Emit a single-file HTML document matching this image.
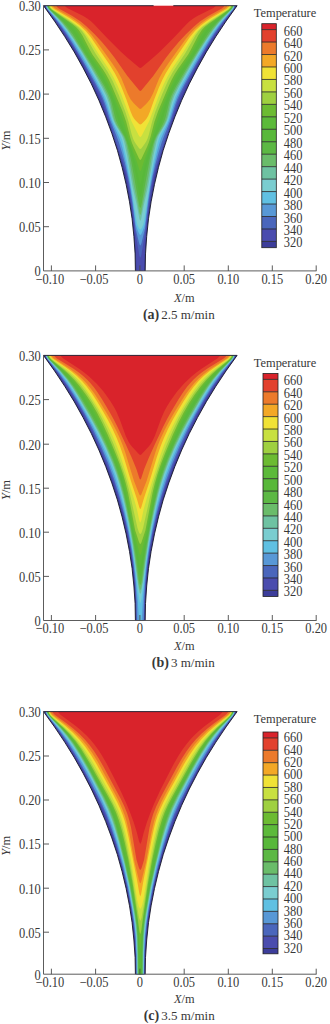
<!DOCTYPE html>
<html><head><meta charset="utf-8"><style>
html,body{margin:0;padding:0;background:#fff;}
body{width:330px;height:1024px;overflow:hidden;}
svg{display:block;}
.t{font-family:"Liberation Serif",serif;font-size:13px;fill:#383838;}
.bd{font-weight:bold;font-size:14px;}
.n{font-family:"Liberation Serif",serif;font-size:14.5px;fill:#383838;}
</style></head><body>
<svg width="330" height="1024" viewBox="0 0 330 1024">
<path d="M135.4,270.9 135.1,253.9 133.9,236.4 132.1,218.8 129.5,201.8 126.1,184.3 122.1,167.3 117.4,150.3 111.8,133.3 105.7,116.8 98.9,100.3 91.3,83.8 83.1,67.9 74.5,52.5 65.1,37.1 56.0,23.2 43.5,5.7 42.9,4.5 237.7,4.5 237.1,5.7 224.6,23.2 215.5,37.1 206.1,52.5 197.5,67.9 189.3,83.8 181.7,100.3 174.9,116.8 168.8,133.3 163.2,150.3 158.5,167.3 154.5,184.3 151.1,201.8 148.5,218.8 146.7,236.4 145.5,253.9 145.2,270.9Z" fill="#3c3d9a"/>
<path d="M136.5,270.9 135.7,249.9 133.8,226.9 131.4,206.4 128.1,186.4 125.9,175.4 123.4,165.9 115.0,140.9 108.6,120.9 103.2,106.4 97.9,93.9 91.1,79.9 81.7,61.9 74.2,48.9 66.3,36.4 57.0,22.9 46.9,9.4 45.8,7.4 45.4,5.7 44.8,4.5 235.8,4.5 235.2,5.7 234.8,7.4 233.7,9.4 223.6,22.9 214.3,36.4 206.4,48.9 198.9,61.9 189.5,79.9 182.7,93.9 177.4,106.4 172.0,120.9 165.6,140.9 157.2,165.9 154.7,175.4 152.5,186.4 149.2,206.4 146.8,226.9 144.9,249.9 144.1,270.9Z" fill="#4a4cae"/>
<path d="M140.3,257.7 139.7,256.4 139.2,254.4 135.3,231.9 131.0,197.9 128.7,184.4 126.7,174.4 122.5,159.9 103.3,102.4 100.2,94.9 96.2,86.9 84.4,64.9 76.6,51.4 69.3,39.4 62.6,29.4 56.4,20.9 47.3,9.4 46.1,7.4 45.7,5.7 45.1,4.5 235.5,4.5 234.9,5.7 234.5,7.4 233.3,9.4 224.2,20.9 218.0,29.4 211.3,39.4 204.0,51.4 196.2,64.9 184.4,86.9 180.4,94.9 177.3,102.4 158.1,159.9 153.9,174.4 151.9,184.4 149.6,197.9 145.3,231.9 141.4,254.4 140.9,256.4 140.3,257.7Z" fill="#4a66bc"/>
<path d="M140.3,245.5 139.8,244.9 139.1,242.9 135.6,228.4 132.6,203.9 130.6,190.4 128.1,176.9 125.0,163.4 122.1,152.9 118.9,142.4 116.5,135.9 110.3,120.4 105.4,104.9 103.4,99.4 100.3,92.4 95.9,83.9 83.9,62.4 72.4,42.9 66.7,33.9 61.8,26.9 56.8,20.4 47.6,9.4 46.4,7.4 46.0,5.7 45.4,4.5 235.2,4.5 234.6,5.7 234.2,7.4 233.0,9.4 223.8,20.4 218.8,26.9 213.9,33.9 208.2,42.9 196.7,62.4 184.7,83.9 180.3,92.4 177.2,99.4 175.2,104.9 170.3,120.4 164.1,135.9 161.7,142.4 158.5,152.9 155.6,163.4 152.5,176.9 150.0,190.4 148.0,203.9 145.0,228.4 141.5,242.9 140.8,244.9 140.3,245.5Z" fill="#5898d6"/>
<path d="M140.3,235.0 139.6,234.4 138.6,232.4 136.8,227.9 135.8,224.4 132.6,199.4 130.2,183.9 126.5,164.9 122.9,149.4 120.9,142.4 119.2,137.4 113.2,124.4 111.4,119.9 106.4,103.9 104.0,97.4 99.5,87.9 89.1,68.9 82.0,56.4 73.2,41.9 67.3,32.9 62.2,25.9 56.9,19.4 48.0,9.4 46.8,7.4 46.3,5.7 45.7,4.5 234.9,4.5 234.3,5.7 233.8,7.4 232.6,9.4 223.7,19.4 218.4,25.9 213.3,32.9 207.4,41.9 198.6,56.4 191.5,68.9 181.1,87.9 176.6,97.4 174.2,103.9 169.2,119.9 167.4,124.4 161.4,137.4 159.7,142.4 157.7,149.4 154.1,164.9 150.4,183.9 148.0,199.4 144.8,224.4 143.8,227.9 142.0,232.4 141.0,234.4 140.3,235.0Z" fill="#60c0e2"/>
<path d="M140.3,229.4 139.5,228.9 138.6,227.4 137.5,224.9 136.7,221.9 129.4,174.4 126.0,156.4 122.9,142.9 121.8,138.9 120.4,135.4 114.7,124.9 112.7,120.4 107.6,103.4 105.1,96.4 100.8,87.4 89.5,66.9 82.6,54.9 74.5,41.9 68.5,32.9 62.9,25.4 57.4,18.9 48.1,8.9 47.2,7.4 46.1,4.5 234.5,4.5 233.4,7.4 232.5,8.9 223.2,18.9 217.7,25.4 212.1,32.9 206.1,41.9 198.0,54.9 191.1,66.9 179.8,87.4 175.5,96.4 173.0,103.4 167.9,120.4 165.9,124.9 160.2,135.4 158.8,138.9 157.7,142.9 154.6,156.4 151.2,174.4 143.9,221.9 143.1,224.9 142.0,227.4 141.1,228.9 140.3,229.4Z" fill="#7acdd0"/>
<path d="M140.3,221.0 139.4,218.9 137.0,205.9 132.3,185.4 127.3,155.9 124.1,141.4 123.0,137.9 121.7,134.9 115.7,124.9 113.6,120.4 112.1,115.9 108.7,102.4 106.1,95.4 101.9,86.9 89.7,65.4 82.3,52.9 73.8,39.4 67.9,30.9 62.5,23.9 57.7,18.4 48.5,8.9 47.5,7.4 46.4,4.5 234.2,4.5 233.1,7.4 232.1,8.9 222.9,18.4 218.1,23.9 212.7,30.9 206.8,39.4 198.3,52.9 190.9,65.4 178.7,86.9 174.5,95.4 171.9,102.4 168.5,115.9 167.0,120.4 164.9,124.9 158.9,134.9 157.6,137.9 156.5,141.4 153.3,155.9 148.3,185.4 143.6,205.9 141.2,218.9 140.3,221.0Z" fill="#6ec2a2"/>
<path d="M140.3,215.0 139.7,213.9 139.3,212.4 137.3,201.4 133.6,184.4 128.6,155.4 125.9,142.9 124.8,139.4 123.3,135.9 116.6,124.9 114.5,120.4 113.0,115.4 110.1,102.4 107.4,94.9 103.3,86.9 90.8,65.4 80.4,48.4 73.0,36.9 67.7,29.4 62.5,22.9 57.9,17.9 48.9,8.9 47.9,7.4 46.7,4.5 233.9,4.5 232.7,7.4 231.7,8.9 222.7,17.9 218.1,22.9 212.9,29.4 207.6,36.9 200.2,48.4 189.8,65.4 177.3,86.9 173.2,94.9 170.5,102.4 167.6,115.4 166.1,120.4 164.0,124.9 157.3,135.9 155.8,139.4 154.7,142.9 152.0,155.4 147.0,184.4 143.3,201.4 141.3,212.4 140.9,213.9 140.3,215.0Z" fill="#6abc6a"/>
<path d="M140.3,208.0 139.7,206.9 139.3,205.4 130.8,158.9 127.7,145.4 126.3,140.9 124.7,136.9 118.3,125.4 116.2,120.9 114.8,116.4 111.4,101.9 109.9,97.4 108.2,93.4 104.3,85.9 94.6,69.4 72.5,33.9 68.0,27.9 63.3,22.4 58.9,17.9 49.3,8.9 48.2,7.4 47.1,4.5 233.5,4.5 232.4,7.4 231.3,8.9 221.7,17.9 217.3,22.4 212.6,27.9 208.1,33.9 186.0,69.4 176.3,85.9 172.4,93.4 170.7,97.4 169.2,101.9 165.8,116.4 164.4,120.9 162.3,125.4 155.9,136.9 154.3,140.9 152.9,145.4 149.8,158.9 141.3,205.4 140.9,206.9 140.3,208.0Z" fill="#5cb844"/>
<path d="M140.3,197.0 139.7,195.9 139.2,193.9 136.3,177.4 133.5,163.9 129.5,147.9 126.0,137.9 120.5,126.4 118.8,122.4 112.3,99.9 110.6,95.4 108.6,90.9 105.2,84.4 98.2,72.4 86.7,54.4 77.0,37.9 72.8,31.4 69.2,26.9 64.8,22.4 50.1,9.4 48.6,7.4 47.4,4.5 233.2,4.5 232.0,7.4 230.5,9.4 215.8,22.4 211.4,26.9 207.8,31.4 203.6,37.9 193.9,54.4 182.4,72.4 175.4,84.4 172.0,90.9 170.0,95.4 168.3,99.9 161.8,122.4 160.1,126.4 154.6,137.9 151.1,147.9 147.1,163.9 144.3,177.4 141.4,193.9 140.9,195.9 140.3,197.0Z" fill="#58b83a"/>
<path d="M140.3,184.0 139.9,183.4 139.4,181.9 137.3,171.4 135.5,163.9 130.6,147.9 121.2,121.9 114.2,100.9 110.7,92.4 106.6,83.9 99.9,71.9 87.9,53.9 78.2,36.4 74.4,30.4 71.4,26.9 67.8,23.4 50.6,9.4 48.9,7.4 47.7,4.5 232.9,4.5 231.7,7.4 230.0,9.4 212.8,23.4 209.2,26.9 206.2,30.4 202.4,36.4 192.7,53.9 180.7,71.9 174.0,83.9 169.9,92.4 166.4,100.9 159.4,121.9 150.0,147.9 145.1,163.9 143.3,171.4 141.2,181.9 140.7,183.4 140.3,184.0Z" fill="#5cba3a"/>
<path d="M140.3,171.0 139.7,170.4 139.2,169.4 136.6,160.9 130.4,143.9 123.8,121.9 119.6,109.9 111.6,90.4 108.1,82.9 104.8,76.4 100.8,69.9 90.1,54.4 80.3,35.9 76.5,29.9 73.8,26.9 70.4,23.9 51.1,9.4 49.3,7.4 48.1,4.5 232.5,4.5 231.3,7.4 229.5,9.4 210.2,23.9 206.8,26.9 204.1,29.9 200.3,35.9 190.5,54.4 179.8,69.9 175.8,76.4 172.5,82.9 169.0,90.4 161.0,109.9 156.8,121.9 150.2,143.9 144.0,160.9 141.4,169.4 140.9,170.4 140.3,171.0Z" fill="#6cbb32"/>
<path d="M140.3,160.0 139.6,159.4 139.0,158.4 133.6,146.9 131.8,142.4 130.1,136.9 126.1,121.4 122.4,110.9 111.8,85.9 108.8,79.4 105.8,73.9 102.6,68.9 92.4,54.4 89.9,49.9 82.4,35.4 78.8,29.9 76.0,26.9 72.3,23.9 51.6,9.4 49.7,7.4 48.4,4.5 232.2,4.5 230.9,7.4 229.0,9.4 208.3,23.9 204.6,26.9 201.8,29.9 198.2,35.4 190.7,49.9 188.2,54.4 178.0,68.9 174.8,73.9 171.8,79.4 168.8,85.9 158.2,110.9 154.5,121.4 150.5,136.9 148.8,142.4 147.0,146.9 141.6,158.4 141.0,159.4 140.3,160.0Z" fill="#9fd040"/>
<path d="M140.3,149.1 140.3,148.9 139.3,148.4 138.9,147.9 136.0,143.9 134.4,141.4 133.2,138.9 131.7,134.4 128.3,120.9 125.4,111.9 118.6,94.4 112.7,80.9 107.8,71.9 95.2,52.9 85.2,35.4 82.0,30.9 78.0,26.9 69.8,20.9 52.2,9.4 50.2,7.4 48.8,4.5 231.8,4.5 230.4,7.4 228.4,9.4 210.8,20.9 202.6,26.9 198.6,30.9 195.4,35.4 185.4,52.9 172.8,71.9 167.9,80.9 162.0,94.4 155.2,111.9 152.3,120.9 148.9,134.4 147.4,138.9 146.2,141.4 144.6,143.9 141.7,147.9 141.3,148.4 140.3,148.9 140.3,149.1Z" fill="#c8e040"/>
<path d="M140.3,137.3 140.3,136.9 139.5,136.4 138.8,135.4 131.6,121.4 121.8,95.4 117.5,85.4 113.6,77.4 108.7,68.9 97.6,52.4 87.6,36.4 83.4,30.9 78.7,26.4 69.0,19.4 53.2,9.4 51.0,7.4 49.5,4.5 231.1,4.5 229.6,7.4 227.4,9.4 211.6,19.4 201.9,26.4 197.2,30.9 193.0,36.4 183.0,52.4 171.9,68.9 167.0,77.4 163.1,85.4 158.8,95.4 149.0,121.4 141.8,135.4 141.1,136.4 140.3,136.9 140.3,137.3Z" fill="#f0e236"/>
<path d="M140.3,124.5 139.1,123.9 135.6,120.4 134.0,118.4 132.5,115.9 130.6,111.4 126.4,99.4 121.7,87.4 118.1,79.4 114.7,72.9 109.5,64.4 90.7,36.9 85.7,30.9 79.8,25.4 75.2,21.9 69.3,17.9 54.0,8.9 51.8,6.9 50.6,4.5 230.0,4.5 228.8,6.9 226.6,8.9 211.3,17.9 205.4,21.9 200.8,25.4 194.9,30.9 189.9,36.9 171.1,64.4 165.9,72.9 162.5,79.4 158.9,87.4 154.2,99.4 150.0,111.4 148.1,115.9 146.6,118.4 145.0,120.4 141.5,123.9 140.3,124.5Z" fill="#f3a826"/>
<path d="M140.3,109.1 140.3,108.9 139.2,108.4 134.0,103.4 130.7,99.4 127.6,93.4 121.5,78.4 117.7,71.4 112.0,62.9 95.9,40.4 91.2,34.4 86.1,28.9 79.7,23.4 74.9,19.9 70.3,16.9 55.4,8.4 53.7,6.9 52.5,4.5 228.1,4.5 226.9,6.9 225.2,8.4 210.3,16.9 205.7,19.9 200.9,23.4 194.5,28.9 189.4,34.4 184.7,40.4 168.6,62.9 162.9,71.4 159.1,78.4 153.0,93.4 149.9,99.4 146.6,103.4 141.4,108.4 140.3,108.9 140.3,109.1Z" fill="#ec7a2b"/>
<path d="M140.3,90.9 139.4,90.4 138.9,89.9 127.4,75.9 114.8,57.9 109.4,50.9 101.9,41.9 94.9,34.4 86.6,26.4 80.7,21.4 72.4,15.9 58.8,8.4 57.0,6.9 55.8,4.5 224.8,4.5 223.6,6.9 221.8,8.4 208.2,15.9 199.9,21.4 194.0,26.4 185.7,34.4 178.7,41.9 171.2,50.9 165.8,57.9 153.2,75.9 141.7,89.9 141.2,90.4 140.3,90.9Z" fill="#e2412d"/>
<path d="M140.3,68.2 140.3,67.9 139.1,67.4 127.8,57.9 120.6,51.4 107.1,37.9 93.9,23.9 90.7,20.9 87.3,18.4 83.3,15.9 67.2,7.9 65.5,6.4 64.5,4.5 216.1,4.5 215.1,6.4 213.4,7.9 197.3,15.9 193.3,18.4 189.9,20.9 186.7,23.9 173.5,37.9 160.0,51.4 152.8,57.9 141.5,67.4 140.3,67.9 140.3,68.2Z" fill="#d9232b"/>
<rect x="43" y="1.70" width="200" height="4" fill="#fff"/>
<path d="M135.4,270.9 135.1,253.9 133.9,236.4 132.1,218.8 129.5,201.8 126.1,184.3 122.1,167.3 117.4,150.3 111.8,133.3 105.7,116.8 98.9,100.3 91.3,83.8 83.1,67.9 74.2,51.9 64.7,36.5 54.5,21.1 43.5,5.7" fill="none" stroke="#161628" stroke-width="0.9" stroke-linejoin="round"/>
<path d="M237.1,5.7 226.1,21.1 215.9,36.5 206.4,51.9 197.5,67.9 189.3,83.8 181.7,100.3 174.9,116.8 168.8,133.3 163.2,150.3 158.5,167.3 154.5,184.3 151.1,201.8 148.5,218.8 146.7,236.4 145.5,253.9 145.2,270.9" fill="none" stroke="#161628" stroke-width="0.9" stroke-linejoin="round"/>
<path d="M43.5,5.70 H153.6" stroke="#161628" stroke-width="0.9"/>
<path d="M173.3,5.70 H237.1" stroke="#161628" stroke-width="0.9"/>
<path d="M43.5,5.7 V270.9 H316.5" fill="none" stroke="#4a4a4a" stroke-width="0.9"/>
<text transform="translate(40.80,276.30) scale(0.860,1)" text-anchor="end" class="n">0</text>
<path d="M43.5,226.7 h5.5" stroke="#4a4a4a" stroke-width="0.9"/>
<text transform="translate(40.80,232.10) scale(0.860,1)" text-anchor="end" class="n">0.05</text>
<path d="M43.5,182.5 h5.5" stroke="#4a4a4a" stroke-width="0.9"/>
<text transform="translate(40.80,187.90) scale(0.860,1)" text-anchor="end" class="n">0.10</text>
<path d="M43.5,138.3 h5.5" stroke="#4a4a4a" stroke-width="0.9"/>
<text transform="translate(40.80,143.70) scale(0.860,1)" text-anchor="end" class="n">0.15</text>
<path d="M43.5,94.1 h5.5" stroke="#4a4a4a" stroke-width="0.9"/>
<text transform="translate(40.80,99.50) scale(0.860,1)" text-anchor="end" class="n">0.20</text>
<path d="M43.5,49.9 h5.5" stroke="#4a4a4a" stroke-width="0.9"/>
<text transform="translate(40.80,55.30) scale(0.860,1)" text-anchor="end" class="n">0.25</text>
<text transform="translate(40.80,11.10) scale(0.860,1)" text-anchor="end" class="n">0.30</text>
<path d="M51.4,270.9 v-5.5" stroke="#4a4a4a" stroke-width="0.9"/>
<text transform="translate(49.80,283.80) scale(0.860,1)" text-anchor="middle" class="n">−0.10</text>
<path d="M95.6,270.9 v-5.5" stroke="#4a4a4a" stroke-width="0.9"/>
<text transform="translate(94.00,283.80) scale(0.860,1)" text-anchor="middle" class="n">−0.05</text>
<path d="M139.9,270.9 v-5.5" stroke="#4a4a4a" stroke-width="0.9"/>
<text transform="translate(139.90,283.80) scale(0.860,1)" text-anchor="middle" class="n">0</text>
<path d="M184.2,270.9 v-5.5" stroke="#4a4a4a" stroke-width="0.9"/>
<text transform="translate(184.20,283.80) scale(0.860,1)" text-anchor="middle" class="n">0.05</text>
<path d="M228.3,270.9 v-5.5" stroke="#4a4a4a" stroke-width="0.9"/>
<text transform="translate(228.30,283.80) scale(0.860,1)" text-anchor="middle" class="n">0.10</text>
<path d="M272.3,270.9 v-5.5" stroke="#4a4a4a" stroke-width="0.9"/>
<text transform="translate(272.30,283.80) scale(0.860,1)" text-anchor="middle" class="n">0.15</text>
<path d="M316.2,270.9 v-5.5" stroke="#4a4a4a" stroke-width="0.9"/>
<text transform="translate(316.20,283.80) scale(0.860,1)" text-anchor="middle" class="n">0.20</text>
<text transform="translate(184.30,302.30) scale(0.950,1)" text-anchor="middle" class="t"><tspan font-style="italic">X</tspan>/m</text>
<text transform="translate(10.4,140.6) rotate(-90) scale(0.95,1)" text-anchor="middle" class="t"><tspan font-style="italic">Y</tspan>/m</text>
<text x="285" y="16.5" text-anchor="middle" class="t" textLength="62.4" lengthAdjust="spacingAndGlyphs">Temperature</text>
<rect x="261.8" y="23.70" width="14.5" height="5.90" fill="#d9232b"/>
<rect x="261.8" y="29.60" width="14.5" height="12.46" fill="#e2412d"/>
<rect x="261.8" y="42.06" width="14.5" height="12.46" fill="#ec7a2b"/>
<rect x="261.8" y="54.52" width="14.5" height="12.46" fill="#f3a826"/>
<rect x="261.8" y="66.98" width="14.5" height="12.46" fill="#f0e236"/>
<rect x="261.8" y="79.44" width="14.5" height="12.46" fill="#c8e040"/>
<rect x="261.8" y="91.90" width="14.5" height="12.46" fill="#9fd040"/>
<rect x="261.8" y="104.36" width="14.5" height="12.46" fill="#6cbb32"/>
<rect x="261.8" y="116.82" width="14.5" height="12.46" fill="#5cba3a"/>
<rect x="261.8" y="129.28" width="14.5" height="12.46" fill="#58b83a"/>
<rect x="261.8" y="141.74" width="14.5" height="12.46" fill="#5cb844"/>
<rect x="261.8" y="154.20" width="14.5" height="12.46" fill="#6abc6a"/>
<rect x="261.8" y="166.66" width="14.5" height="12.46" fill="#6ec2a2"/>
<rect x="261.8" y="179.12" width="14.5" height="12.46" fill="#7acdd0"/>
<rect x="261.8" y="191.58" width="14.5" height="12.46" fill="#60c0e2"/>
<rect x="261.8" y="204.04" width="14.5" height="12.46" fill="#5898d6"/>
<rect x="261.8" y="216.50" width="14.5" height="12.46" fill="#4a66bc"/>
<rect x="261.8" y="228.96" width="14.5" height="12.46" fill="#4a4cae"/>
<rect x="261.8" y="241.42" width="14.5" height="6.28" fill="#3c3d9a"/>
<path d="M261.8,29.60 h14.5" stroke="#222" stroke-width="0.8"/>
<text transform="translate(283.80,35.60) scale(0.860,1)" text-anchor="start" class="n">660</text>
<path d="M261.8,42.06 h14.5" stroke="#222" stroke-width="0.8"/>
<text transform="translate(283.80,48.06) scale(0.860,1)" text-anchor="start" class="n">640</text>
<path d="M261.8,54.52 h14.5" stroke="#222" stroke-width="0.8"/>
<text transform="translate(283.80,60.52) scale(0.860,1)" text-anchor="start" class="n">620</text>
<path d="M261.8,66.98 h14.5" stroke="#222" stroke-width="0.8"/>
<text transform="translate(283.80,72.98) scale(0.860,1)" text-anchor="start" class="n">600</text>
<path d="M261.8,79.44 h14.5" stroke="#222" stroke-width="0.8"/>
<text transform="translate(283.80,85.44) scale(0.860,1)" text-anchor="start" class="n">580</text>
<path d="M261.8,91.90 h14.5" stroke="#222" stroke-width="0.8"/>
<text transform="translate(283.80,97.90) scale(0.860,1)" text-anchor="start" class="n">560</text>
<path d="M261.8,104.36 h14.5" stroke="#222" stroke-width="0.8"/>
<text transform="translate(283.80,110.36) scale(0.860,1)" text-anchor="start" class="n">540</text>
<path d="M261.8,116.82 h14.5" stroke="#222" stroke-width="0.8"/>
<text transform="translate(283.80,122.82) scale(0.860,1)" text-anchor="start" class="n">520</text>
<path d="M261.8,129.28 h14.5" stroke="#222" stroke-width="0.8"/>
<text transform="translate(283.80,135.28) scale(0.860,1)" text-anchor="start" class="n">500</text>
<path d="M261.8,141.74 h14.5" stroke="#222" stroke-width="0.8"/>
<text transform="translate(283.80,147.74) scale(0.860,1)" text-anchor="start" class="n">480</text>
<path d="M261.8,154.20 h14.5" stroke="#222" stroke-width="0.8"/>
<text transform="translate(283.80,160.20) scale(0.860,1)" text-anchor="start" class="n">460</text>
<path d="M261.8,166.66 h14.5" stroke="#222" stroke-width="0.8"/>
<text transform="translate(283.80,172.66) scale(0.860,1)" text-anchor="start" class="n">440</text>
<path d="M261.8,179.12 h14.5" stroke="#222" stroke-width="0.8"/>
<text transform="translate(283.80,185.12) scale(0.860,1)" text-anchor="start" class="n">420</text>
<path d="M261.8,191.58 h14.5" stroke="#222" stroke-width="0.8"/>
<text transform="translate(283.80,197.58) scale(0.860,1)" text-anchor="start" class="n">400</text>
<path d="M261.8,204.04 h14.5" stroke="#222" stroke-width="0.8"/>
<text transform="translate(283.80,210.04) scale(0.860,1)" text-anchor="start" class="n">380</text>
<path d="M261.8,216.50 h14.5" stroke="#222" stroke-width="0.8"/>
<text transform="translate(283.80,222.50) scale(0.860,1)" text-anchor="start" class="n">360</text>
<path d="M261.8,228.96 h14.5" stroke="#222" stroke-width="0.8"/>
<text transform="translate(283.80,234.96) scale(0.860,1)" text-anchor="start" class="n">340</text>
<path d="M261.8,241.42 h14.5" stroke="#222" stroke-width="0.8"/>
<text transform="translate(283.80,247.42) scale(0.860,1)" text-anchor="start" class="n">320</text>
<rect x="261.8" y="23.70" width="14.5" height="224.00" fill="none" stroke="#222" stroke-width="0.8"/>
<text x="214.7" y="319.2" text-anchor="end" class="t"><tspan class="bd">(a)</tspan><tspan dx="2">2.5 m/min</tspan></text>
<path d="M135.4,620.5 135.1,603.5 133.9,586.0 132.1,568.4 129.5,551.4 126.1,533.9 122.1,516.9 117.4,499.9 111.8,482.9 105.7,466.4 98.9,450.0 91.3,433.5 83.1,417.6 74.5,402.2 65.1,386.7 56.0,372.9 43.5,355.4 42.9,354.2 237.7,354.2 237.1,355.4 224.6,372.9 215.5,386.7 206.1,402.2 197.5,417.6 189.3,433.5 181.7,450.0 174.9,466.4 168.8,482.9 163.2,499.9 158.5,516.9 154.5,533.9 151.1,551.4 148.5,568.4 146.7,586.0 145.5,603.5 145.2,620.5Z" fill="#3c3d9a"/>
<path d="M136.2,620.5 135.8,602.5 134.8,585.0 133.2,568.5 130.9,552.5 127.6,535.0 123.6,517.5 119.0,500.5 113.7,484.0 108.0,468.5 100.8,451.5 91.9,432.0 83.3,415.0 76.3,402.5 68.7,390.0 58.7,375.0 47.1,359.5 45.9,357.5 44.7,354.2 235.9,354.2 234.7,357.5 233.5,359.5 221.9,375.0 211.9,390.0 204.3,402.5 197.3,415.0 188.7,432.0 179.8,451.5 172.6,468.5 166.9,484.0 161.6,500.5 157.0,517.5 153.0,535.0 149.7,552.5 147.4,568.5 145.8,585.0 144.8,602.5 144.4,620.5Z" fill="#4a4cae"/>
<path d="M136.6,620.5 136.2,602.0 135.2,584.5 133.6,568.0 131.3,551.5 128.0,533.5 123.9,515.5 119.3,498.5 114.0,482.0 108.3,466.5 101.1,449.5 92.3,430.5 83.9,414.0 76.2,400.5 68.2,387.5 58.8,374.0 47.5,359.5 46.2,357.5 45.0,354.2 235.6,354.2 234.4,357.5 233.1,359.5 221.8,374.0 212.4,387.5 204.4,400.5 196.7,414.0 188.3,430.5 179.5,449.5 172.3,466.5 166.6,482.0 161.3,498.5 156.7,515.5 152.6,533.5 149.3,551.5 147.0,568.0 145.4,584.5 144.4,602.0 144.0,620.5Z" fill="#4a66bc"/>
<path d="M137.0,620.5 136.6,601.5 135.5,583.0 133.8,566.0 131.5,549.5 128.1,531.0 124.0,513.0 119.4,496.0 114.2,479.5 108.3,463.5 101.3,447.0 93.3,430.0 84.9,414.0 76.3,399.0 68.1,386.0 59.2,373.5 47.8,359.5 46.5,357.5 45.3,354.2 235.3,354.2 234.1,357.5 232.8,359.5 221.4,373.5 212.5,386.0 204.3,399.0 195.7,414.0 187.3,430.0 179.3,447.0 172.3,463.5 166.4,479.5 161.2,496.0 156.6,513.0 152.5,531.0 149.1,549.5 146.8,566.0 145.1,583.0 144.0,601.5 143.6,620.5Z" fill="#5898d6"/>
<path d="M138.9,620.5 137.8,600.5 136.0,580.0 133.9,561.5 131.2,543.5 127.7,525.0 123.5,506.5 119.0,490.0 114.2,475.0 108.1,459.0 100.8,442.5 93.2,427.0 84.2,410.5 75.1,395.0 67.4,383.0 59.6,372.5 48.2,359.5 46.9,357.5 45.6,354.2 235.0,354.2 233.7,357.5 232.4,359.5 221.0,372.5 213.2,383.0 205.5,395.0 196.4,410.5 187.4,427.0 179.8,442.5 172.5,459.0 166.4,475.0 161.6,490.0 157.1,506.5 152.9,525.0 149.4,543.5 146.7,561.5 144.6,580.0 142.8,600.5 141.7,620.5Z" fill="#60c0e2"/>
<path d="M140.3,603.0 139.8,602.0 139.1,598.5 134.8,563.5 132.9,550.5 130.5,536.0 127.9,522.0 124.4,506.0 120.7,491.5 117.0,479.0 112.8,467.0 106.4,451.5 98.4,434.5 90.2,419.0 78.8,399.0 72.3,388.5 66.5,380.0 59.3,371.0 48.6,359.5 47.2,357.5 45.9,354.2 234.7,354.2 233.4,357.5 232.0,359.5 221.3,371.0 214.1,380.0 208.3,388.5 201.8,399.0 190.4,419.0 182.2,434.5 174.2,451.5 167.8,467.0 163.6,479.0 159.9,491.5 156.2,506.0 152.7,522.0 150.1,536.0 147.7,550.5 145.8,563.5 141.5,598.5 140.8,602.0 140.3,603.0Z" fill="#7acdd0"/>
<path d="M140.3,594.0 139.5,592.5 138.7,588.5 137.0,577.5 134.6,559.0 132.3,543.5 129.6,528.0 126.5,512.5 123.2,498.0 119.9,485.5 116.5,474.5 112.4,463.5 105.9,448.0 98.4,432.5 90.0,417.0 78.1,396.5 72.1,387.0 66.8,379.5 59.8,371.0 48.9,359.5 47.5,357.5 46.2,354.2 234.4,354.2 233.1,357.5 231.7,359.5 220.8,371.0 213.8,379.5 208.5,387.0 202.5,396.5 190.6,417.0 182.2,432.5 174.7,448.0 168.2,463.5 164.1,474.5 160.7,485.5 157.4,498.0 154.1,512.5 151.0,528.0 148.3,543.5 146.0,559.0 143.6,577.5 141.9,588.5 141.1,592.5 140.3,594.0Z" fill="#6ec2a2"/>
<path d="M140.3,590.0 139.9,589.5 139.4,588.0 138.3,582.5 134.8,556.0 132.6,541.5 129.6,524.5 126.4,508.5 123.3,495.0 120.0,483.0 116.7,472.5 112.6,461.5 105.9,446.0 98.6,431.0 90.4,416.0 78.6,396.0 72.9,387.0 67.5,379.5 60.3,371.0 49.2,359.5 47.8,357.5 46.5,354.2 234.1,354.2 232.8,357.5 231.4,359.5 220.3,371.0 213.1,379.5 207.7,387.0 202.0,396.0 190.2,416.0 182.0,431.0 174.7,446.0 168.0,461.5 163.9,472.5 160.6,483.0 157.3,495.0 154.2,508.5 151.0,524.5 148.0,541.5 145.8,556.0 142.3,582.5 141.2,588.0 140.7,589.5 140.3,590.0Z" fill="#6abc6a"/>
<path d="M140.3,585.0 139.7,584.0 139.0,581.0 136.4,561.0 134.2,547.0 129.7,521.5 126.0,503.0 123.0,490.5 120.1,480.0 116.8,470.0 112.9,459.5 105.9,443.5 98.5,428.5 90.3,413.5 79.6,395.5 74.0,387.0 68.4,379.5 61.1,371.0 49.6,359.5 48.1,357.5 46.8,354.2 233.8,354.2 232.5,357.5 231.0,359.5 219.5,371.0 212.2,379.5 206.6,387.0 201.0,395.5 190.3,413.5 182.1,428.5 174.7,443.5 167.7,459.5 163.8,470.0 160.5,480.0 157.6,490.5 154.6,503.0 150.9,521.5 146.4,547.0 144.2,561.0 141.6,581.0 140.9,584.0 140.3,585.0Z" fill="#5cb844"/>
<path d="M140.3,576.0 139.9,575.5 139.4,573.5 136.3,553.0 128.4,511.0 124.8,494.0 122.2,483.5 119.5,474.5 116.2,465.0 112.2,455.0 104.6,438.0 97.4,423.5 89.9,410.0 80.7,395.0 74.9,386.5 69.6,379.5 61.9,371.0 49.9,359.5 48.4,357.5 47.1,354.2 233.5,354.2 232.2,357.5 230.7,359.5 218.7,371.0 211.0,379.5 205.7,386.5 199.9,395.0 190.7,410.0 183.2,423.5 176.0,438.0 168.4,455.0 164.4,465.0 161.1,474.5 158.4,483.5 155.8,494.0 152.2,511.0 144.3,553.0 141.2,573.5 140.7,575.5 140.3,576.0Z" fill="#58b83a"/>
<path d="M140.3,566.0 139.9,565.5 139.3,563.5 137.2,551.5 133.1,532.5 127.7,503.0 124.0,486.0 121.4,477.0 118.5,468.0 114.8,458.5 110.2,447.5 102.9,431.5 96.4,418.5 89.3,406.0 81.8,394.0 74.9,384.5 68.2,376.5 61.8,370.0 52.3,361.5 49.9,359.0 48.5,357.0 47.4,354.2 233.2,354.2 232.1,357.0 230.7,359.0 228.3,361.5 218.8,370.0 212.4,376.5 205.7,384.5 198.8,394.0 191.3,406.0 184.2,418.5 177.7,431.5 170.4,447.5 165.8,458.5 162.1,468.0 159.2,477.0 156.6,486.0 152.9,503.0 147.5,532.5 143.4,551.5 141.3,563.5 140.7,565.5 140.3,566.0Z" fill="#5cba3a"/>
<path d="M140.3,555.0 139.8,554.5 139.3,553.0 134.3,533.0 127.8,498.0 125.6,488.0 123.3,479.0 120.3,469.5 116.4,459.0 111.2,446.5 104.3,431.0 98.7,419.5 93.6,410.0 86.9,399.0 80.4,389.5 74.1,381.5 68.1,375.0 62.3,369.5 52.8,361.5 50.2,359.0 48.8,357.0 47.7,354.2 232.9,354.2 231.8,357.0 230.4,359.0 227.8,361.5 218.3,369.5 212.5,375.0 206.5,381.5 200.2,389.5 193.7,399.0 187.0,410.0 181.9,419.5 176.3,431.0 169.4,446.5 164.2,459.0 160.3,469.5 157.3,479.0 155.0,488.0 152.8,498.0 146.3,533.0 141.3,553.0 140.8,554.5 140.3,555.0Z" fill="#6cbb32"/>
<path d="M140.3,544.0 139.7,543.5 139.0,542.0 135.2,530.5 128.1,493.0 125.8,483.5 123.2,474.5 119.5,463.5 114.8,451.5 107.6,434.5 101.8,422.0 96.9,412.5 91.4,403.0 85.8,394.5 79.9,386.5 74.4,380.0 68.5,374.0 62.9,369.0 51.2,359.5 49.5,357.5 48.0,354.2 232.6,354.2 231.1,357.5 229.4,359.5 217.7,369.0 212.1,374.0 206.2,380.0 200.7,386.5 194.8,394.5 189.2,403.0 183.7,412.5 178.8,422.0 173.0,434.5 165.8,451.5 161.1,463.5 157.4,474.5 154.8,483.5 152.5,493.0 145.4,530.5 141.6,542.0 140.9,543.5 140.3,544.0Z" fill="#9fd040"/>
<path d="M140.3,534.0 139.6,533.5 139.0,532.5 137.5,528.0 128.8,489.0 126.5,480.5 123.0,469.5 118.4,456.5 113.8,444.5 107.5,430.0 102.0,418.5 97.1,409.5 91.0,399.5 85.6,391.5 80.2,384.5 74.8,378.5 69.0,373.0 63.6,368.5 54.2,361.5 51.2,359.0 49.6,357.0 48.4,354.2 232.2,354.2 231.0,357.0 229.4,359.0 226.4,361.5 217.0,368.5 211.6,373.0 205.8,378.5 200.4,384.5 195.0,391.5 189.6,399.5 183.5,409.5 178.6,418.5 173.1,430.0 166.8,444.5 162.2,456.5 157.6,469.5 154.1,480.5 151.8,489.0 143.1,528.0 141.6,532.5 141.0,533.5 140.3,534.0Z" fill="#c8e040"/>
<path d="M140.3,522.5 139.9,522.0 139.3,520.5 137.0,509.5 134.2,499.5 123.8,466.0 119.9,454.0 116.5,445.0 112.9,436.5 108.4,427.0 103.8,418.0 97.5,407.0 90.7,396.0 85.5,388.5 80.8,382.5 75.6,377.0 70.0,372.0 64.2,367.5 52.1,359.0 50.2,357.0 49.0,354.2 231.6,354.2 230.4,357.0 228.5,359.0 216.4,367.5 210.6,372.0 205.0,377.0 199.8,382.5 195.1,388.5 189.9,396.0 183.1,407.0 176.8,418.0 172.2,427.0 167.7,436.5 164.1,445.0 160.7,454.0 156.8,466.0 146.4,499.5 143.6,509.5 141.3,520.5 140.7,522.0 140.3,522.5Z" fill="#f0e236"/>
<path d="M140.3,509.1 139.8,508.5 139.2,507.0 136.9,499.0 131.1,481.5 123.9,457.5 119.9,446.0 116.7,438.0 112.6,429.0 108.2,420.5 103.4,412.0 96.8,401.0 91.6,393.0 86.7,386.5 82.0,381.0 76.9,376.0 70.8,371.0 65.2,367.0 52.5,358.5 50.6,356.5 49.6,354.2 231.0,354.2 230.0,356.5 228.1,358.5 215.4,367.0 209.8,371.0 203.7,376.0 198.6,381.0 193.9,386.5 189.0,393.0 183.8,401.0 177.2,412.0 172.4,420.5 168.0,429.0 163.9,438.0 160.7,446.0 156.7,457.5 149.5,481.5 143.7,499.0 141.4,507.0 140.8,508.5 140.3,509.1Z" fill="#f3a826"/>
<path d="M140.3,495.5 139.6,495.0 139.1,494.0 134.0,481.0 125.1,452.0 122.8,445.5 120.2,439.0 116.2,430.5 111.5,421.5 106.3,412.5 98.6,400.0 94.4,393.5 90.3,388.0 86.2,383.0 81.9,378.5 76.8,374.0 70.9,369.5 54.0,358.5 52.0,356.5 50.9,354.2 229.7,354.2 228.6,356.5 226.6,358.5 209.7,369.5 203.8,374.0 198.7,378.5 194.4,383.0 190.3,388.0 186.2,393.5 182.0,400.0 174.3,412.5 169.1,421.5 164.4,430.5 160.4,439.0 157.8,445.5 155.5,452.0 146.6,481.0 141.5,494.0 141.0,495.0 140.3,495.5Z" fill="#ec7a2b"/>
<path d="M140.3,479.5 139.7,479.0 139.3,478.0 136.4,469.0 131.9,458.0 125.6,444.0 117.8,427.5 113.5,419.0 109.6,412.0 102.2,399.5 97.3,392.0 93.7,387.0 90.3,383.0 87.0,379.5 83.2,376.0 78.9,372.5 73.2,368.5 56.9,358.5 54.7,356.5 53.5,354.2 227.1,354.2 225.9,356.5 223.7,358.5 207.4,368.5 201.7,372.5 197.4,376.0 193.6,379.5 190.3,383.0 186.9,387.0 183.3,392.0 178.4,399.5 171.0,412.0 167.1,419.0 162.8,427.5 155.0,444.0 148.7,458.0 144.2,469.0 141.3,478.0 140.9,479.0 140.3,479.5Z" fill="#e2412d"/>
<path d="M140.3,455.0 139.3,454.5 132.3,447.0 130.3,444.5 128.7,442.0 125.8,436.0 119.6,419.0 116.4,411.5 113.7,406.5 110.3,401.0 103.5,391.5 96.5,383.5 89.1,376.5 84.2,372.5 78.7,368.5 63.3,358.5 61.2,356.5 60.1,354.2 220.5,354.2 219.4,356.5 217.3,358.5 201.9,368.5 196.4,372.5 191.5,376.5 184.1,383.5 177.1,391.5 170.3,401.0 166.9,406.5 164.2,411.5 161.0,419.0 154.8,436.0 151.9,442.0 150.3,444.5 148.3,447.0 141.3,454.5 140.3,455.0Z" fill="#d9232b"/>
<rect x="43" y="351.40" width="200" height="4" fill="#fff"/>
<path d="M135.4,620.5 135.1,603.5 133.9,586.0 132.1,568.4 129.5,551.4 126.1,533.9 122.1,516.9 117.4,499.9 111.8,482.9 105.7,466.4 98.9,450.0 91.3,433.5 83.1,417.6 74.2,401.6 64.7,386.2 54.5,370.8 43.5,355.4" fill="none" stroke="#161628" stroke-width="0.9" stroke-linejoin="round"/>
<path d="M237.1,355.4 226.1,370.8 215.9,386.2 206.4,401.6 197.5,417.6 189.3,433.5 181.7,450.0 174.9,466.4 168.8,482.9 163.2,499.9 158.5,516.9 154.5,533.9 151.1,551.4 148.5,568.4 146.7,586.0 145.5,603.5 145.2,620.5" fill="none" stroke="#161628" stroke-width="0.9" stroke-linejoin="round"/>
<path d="M43.5,355.40 H237.1" stroke="#161628" stroke-width="0.9"/>
<path d="M43.5,355.4 V620.5 H316.5" fill="none" stroke="#4a4a4a" stroke-width="0.9"/>
<text transform="translate(40.80,625.90) scale(0.860,1)" text-anchor="end" class="n">0</text>
<path d="M43.5,576.4 h5.5" stroke="#4a4a4a" stroke-width="0.9"/>
<text transform="translate(40.80,581.80) scale(0.860,1)" text-anchor="end" class="n">0.05</text>
<path d="M43.5,532.2 h5.5" stroke="#4a4a4a" stroke-width="0.9"/>
<text transform="translate(40.80,537.60) scale(0.860,1)" text-anchor="end" class="n">0.10</text>
<path d="M43.5,488.2 h5.5" stroke="#4a4a4a" stroke-width="0.9"/>
<text transform="translate(40.80,493.60) scale(0.860,1)" text-anchor="end" class="n">0.15</text>
<path d="M43.5,444.2 h5.5" stroke="#4a4a4a" stroke-width="0.9"/>
<text transform="translate(40.80,449.60) scale(0.860,1)" text-anchor="end" class="n">0.20</text>
<path d="M43.5,399.6 h5.5" stroke="#4a4a4a" stroke-width="0.9"/>
<text transform="translate(40.80,405.00) scale(0.860,1)" text-anchor="end" class="n">0.25</text>
<text transform="translate(40.80,360.90) scale(0.860,1)" text-anchor="end" class="n">0.30</text>
<path d="M51.4,620.5 v-5.5" stroke="#4a4a4a" stroke-width="0.9"/>
<text transform="translate(49.80,632.90) scale(0.860,1)" text-anchor="middle" class="n">−0.10</text>
<path d="M95.6,620.5 v-5.5" stroke="#4a4a4a" stroke-width="0.9"/>
<text transform="translate(94.00,632.90) scale(0.860,1)" text-anchor="middle" class="n">−0.05</text>
<path d="M139.9,620.5 v-5.5" stroke="#4a4a4a" stroke-width="0.9"/>
<text transform="translate(139.90,632.90) scale(0.860,1)" text-anchor="middle" class="n">0</text>
<path d="M184.2,620.5 v-5.5" stroke="#4a4a4a" stroke-width="0.9"/>
<text transform="translate(184.20,632.90) scale(0.860,1)" text-anchor="middle" class="n">0.05</text>
<path d="M228.3,620.5 v-5.5" stroke="#4a4a4a" stroke-width="0.9"/>
<text transform="translate(228.30,632.90) scale(0.860,1)" text-anchor="middle" class="n">0.10</text>
<path d="M272.3,620.5 v-5.5" stroke="#4a4a4a" stroke-width="0.9"/>
<text transform="translate(272.30,632.90) scale(0.860,1)" text-anchor="middle" class="n">0.15</text>
<path d="M316.2,620.5 v-5.5" stroke="#4a4a4a" stroke-width="0.9"/>
<text transform="translate(316.20,632.90) scale(0.860,1)" text-anchor="middle" class="n">0.20</text>
<text transform="translate(184.30,650.00) scale(0.950,1)" text-anchor="middle" class="t"><tspan font-style="italic">X</tspan>/m</text>
<text transform="translate(10.4,490.0) rotate(-90) scale(0.95,1)" text-anchor="middle" class="t"><tspan font-style="italic">Y</tspan>/m</text>
<text x="285" y="366.5" text-anchor="middle" class="t" textLength="62.4" lengthAdjust="spacingAndGlyphs">Temperature</text>
<rect x="263.0" y="373.50" width="15.0" height="5.90" fill="#d9232b"/>
<rect x="263.0" y="379.40" width="15.0" height="12.41" fill="#e2412d"/>
<rect x="263.0" y="391.81" width="15.0" height="12.41" fill="#ec7a2b"/>
<rect x="263.0" y="404.22" width="15.0" height="12.41" fill="#f3a826"/>
<rect x="263.0" y="416.63" width="15.0" height="12.41" fill="#f0e236"/>
<rect x="263.0" y="429.04" width="15.0" height="12.41" fill="#c8e040"/>
<rect x="263.0" y="441.45" width="15.0" height="12.41" fill="#9fd040"/>
<rect x="263.0" y="453.86" width="15.0" height="12.41" fill="#6cbb32"/>
<rect x="263.0" y="466.27" width="15.0" height="12.41" fill="#5cba3a"/>
<rect x="263.0" y="478.68" width="15.0" height="12.41" fill="#58b83a"/>
<rect x="263.0" y="491.09" width="15.0" height="12.41" fill="#5cb844"/>
<rect x="263.0" y="503.50" width="15.0" height="12.41" fill="#6abc6a"/>
<rect x="263.0" y="515.91" width="15.0" height="12.41" fill="#6ec2a2"/>
<rect x="263.0" y="528.32" width="15.0" height="12.41" fill="#7acdd0"/>
<rect x="263.0" y="540.73" width="15.0" height="12.41" fill="#60c0e2"/>
<rect x="263.0" y="553.14" width="15.0" height="12.41" fill="#5898d6"/>
<rect x="263.0" y="565.55" width="15.0" height="12.41" fill="#4a66bc"/>
<rect x="263.0" y="577.96" width="15.0" height="12.41" fill="#4a4cae"/>
<rect x="263.0" y="590.37" width="15.0" height="6.13" fill="#3c3d9a"/>
<path d="M263.0,379.40 h15.0" stroke="#222" stroke-width="0.8"/>
<text transform="translate(283.80,385.40) scale(0.860,1)" text-anchor="start" class="n">660</text>
<path d="M263.0,391.81 h15.0" stroke="#222" stroke-width="0.8"/>
<text transform="translate(283.80,397.81) scale(0.860,1)" text-anchor="start" class="n">640</text>
<path d="M263.0,404.22 h15.0" stroke="#222" stroke-width="0.8"/>
<text transform="translate(283.80,410.22) scale(0.860,1)" text-anchor="start" class="n">620</text>
<path d="M263.0,416.63 h15.0" stroke="#222" stroke-width="0.8"/>
<text transform="translate(283.80,422.63) scale(0.860,1)" text-anchor="start" class="n">600</text>
<path d="M263.0,429.04 h15.0" stroke="#222" stroke-width="0.8"/>
<text transform="translate(283.80,435.04) scale(0.860,1)" text-anchor="start" class="n">580</text>
<path d="M263.0,441.45 h15.0" stroke="#222" stroke-width="0.8"/>
<text transform="translate(283.80,447.45) scale(0.860,1)" text-anchor="start" class="n">560</text>
<path d="M263.0,453.86 h15.0" stroke="#222" stroke-width="0.8"/>
<text transform="translate(283.80,459.86) scale(0.860,1)" text-anchor="start" class="n">540</text>
<path d="M263.0,466.27 h15.0" stroke="#222" stroke-width="0.8"/>
<text transform="translate(283.80,472.27) scale(0.860,1)" text-anchor="start" class="n">520</text>
<path d="M263.0,478.68 h15.0" stroke="#222" stroke-width="0.8"/>
<text transform="translate(283.80,484.68) scale(0.860,1)" text-anchor="start" class="n">500</text>
<path d="M263.0,491.09 h15.0" stroke="#222" stroke-width="0.8"/>
<text transform="translate(283.80,497.09) scale(0.860,1)" text-anchor="start" class="n">480</text>
<path d="M263.0,503.50 h15.0" stroke="#222" stroke-width="0.8"/>
<text transform="translate(283.80,509.50) scale(0.860,1)" text-anchor="start" class="n">460</text>
<path d="M263.0,515.91 h15.0" stroke="#222" stroke-width="0.8"/>
<text transform="translate(283.80,521.91) scale(0.860,1)" text-anchor="start" class="n">440</text>
<path d="M263.0,528.32 h15.0" stroke="#222" stroke-width="0.8"/>
<text transform="translate(283.80,534.32) scale(0.860,1)" text-anchor="start" class="n">420</text>
<path d="M263.0,540.73 h15.0" stroke="#222" stroke-width="0.8"/>
<text transform="translate(283.80,546.73) scale(0.860,1)" text-anchor="start" class="n">400</text>
<path d="M263.0,553.14 h15.0" stroke="#222" stroke-width="0.8"/>
<text transform="translate(283.80,559.14) scale(0.860,1)" text-anchor="start" class="n">380</text>
<path d="M263.0,565.55 h15.0" stroke="#222" stroke-width="0.8"/>
<text transform="translate(283.80,571.55) scale(0.860,1)" text-anchor="start" class="n">360</text>
<path d="M263.0,577.96 h15.0" stroke="#222" stroke-width="0.8"/>
<text transform="translate(283.80,583.96) scale(0.860,1)" text-anchor="start" class="n">340</text>
<path d="M263.0,590.37 h15.0" stroke="#222" stroke-width="0.8"/>
<text transform="translate(283.80,596.37) scale(0.860,1)" text-anchor="start" class="n">320</text>
<rect x="263.0" y="373.50" width="15.0" height="223.00" fill="none" stroke="#222" stroke-width="0.8"/>
<text x="214.7" y="667.0" text-anchor="end" class="t"><tspan class="bd">(b)</tspan><tspan dx="2">3 m/min</tspan></text>
<path d="M135.4,974.2 135.1,957.4 133.9,940.0 132.1,922.6 129.5,905.8 126.1,888.4 122.1,871.6 117.4,854.7 111.8,837.9 105.7,821.6 98.9,805.3 91.3,789.0 83.1,773.2 74.5,757.9 65.1,742.6 56.0,729.0 43.5,711.6 42.9,710.4 237.7,710.4 237.1,711.6 224.6,729.0 215.5,742.6 206.1,757.9 197.5,773.2 189.3,789.0 181.7,805.3 174.9,821.6 168.8,837.9 163.2,854.7 158.5,871.6 154.5,888.4 151.1,905.8 148.5,922.6 146.7,940.0 145.5,957.4 145.2,974.2Z" fill="#3c3d9a"/>
<path d="M136.1,974.2 135.7,956.2 134.6,938.7 133.0,922.7 130.4,905.7 126.9,887.7 122.8,870.2 117.8,852.2 112.1,834.7 106.6,819.7 100.8,806.2 93.4,790.7 83.8,772.2 76.4,759.2 68.8,746.7 59.2,732.2 47.0,715.7 45.9,713.7 45.3,711.6 44.7,710.4 235.9,710.4 235.3,711.6 234.7,713.7 233.6,715.7 221.4,732.2 211.8,746.7 204.2,759.2 196.8,772.2 187.2,790.7 179.8,806.2 174.0,819.7 168.5,834.7 162.8,852.2 157.8,870.2 153.7,887.7 150.2,905.7 147.6,922.7 146.0,938.7 144.9,956.2 144.5,974.2Z" fill="#4a4cae"/>
<path d="M136.4,974.2 136.1,955.2 135.0,937.2 133.5,922.2 130.9,905.7 127.3,887.2 123.0,868.7 117.4,848.7 111.5,830.2 106.5,816.7 101.3,804.7 93.8,789.7 81.9,767.2 74.7,754.7 67.5,743.2 58.9,730.7 47.4,715.7 46.2,713.7 45.0,710.4 235.6,710.4 234.4,713.7 233.2,715.7 221.7,730.7 213.1,743.2 205.9,754.7 198.7,767.2 186.8,789.7 179.3,804.7 174.1,816.7 169.1,830.2 163.2,848.7 157.6,868.7 153.3,887.2 149.7,905.7 147.1,922.2 145.6,937.2 144.5,955.2 144.2,974.2Z" fill="#4a66bc"/>
<path d="M136.7,974.2 136.4,954.7 135.4,936.2 133.9,922.2 131.5,906.7 127.7,886.7 122.8,866.2 117.1,845.2 110.8,825.7 106.3,813.7 101.1,802.2 88.5,777.7 80.3,762.7 73.5,751.2 67.1,741.2 59.2,730.2 47.7,715.7 46.5,713.7 45.3,710.4 235.3,710.4 234.1,713.7 232.9,715.7 221.4,730.2 213.5,741.2 207.1,751.2 200.3,762.7 192.1,777.7 179.5,802.2 174.3,813.7 169.8,825.7 163.5,845.2 157.8,866.2 152.9,886.7 149.1,906.7 146.7,922.2 145.2,936.2 144.2,954.7 143.9,974.2Z" fill="#5898d6"/>
<path d="M136.9,974.2 136.7,954.7 135.9,936.7 134.6,923.7 132.5,909.7 128.4,887.2 123.9,866.7 118.0,844.7 111.7,824.7 106.8,811.7 101.0,798.7 91.3,779.7 82.2,763.2 75.3,751.7 68.7,741.7 60.1,730.2 48.0,715.7 46.8,713.7 45.6,710.4 235.0,710.4 233.8,713.7 232.6,715.7 220.5,730.2 211.9,741.7 205.3,751.7 198.4,763.2 189.3,779.7 179.6,798.7 173.8,811.7 168.9,824.7 162.6,844.7 156.7,866.7 152.2,887.2 148.1,909.7 146.0,923.7 144.7,936.7 143.9,954.7 143.7,974.2Z" fill="#60c0e2"/>
<path d="M137.2,974.2 137.0,954.7 136.3,936.7 135.2,924.7 133.3,911.7 128.9,886.2 124.5,865.7 118.6,843.2 112.5,823.7 107.7,811.2 101.8,798.2 90.2,775.7 80.7,758.7 74.2,748.2 68.1,739.2 60.3,729.2 48.4,715.7 47.1,713.7 45.9,710.4 234.7,710.4 233.5,713.7 232.2,715.7 220.3,729.2 212.5,739.2 206.4,748.2 199.9,758.7 190.4,775.7 178.8,798.2 172.9,811.2 168.1,823.7 162.0,843.2 156.1,865.7 151.7,886.2 147.3,911.7 145.4,924.7 144.3,936.7 143.6,954.7 143.4,974.2Z" fill="#7acdd0"/>
<path d="M137.5,974.2 137.4,954.2 136.7,936.2 135.7,924.7 133.9,912.2 129.5,887.2 124.8,865.2 118.5,840.7 115.4,830.2 112.3,820.7 108.1,809.7 102.4,797.7 88.6,771.2 79.5,755.2 73.5,745.7 67.9,737.7 60.6,728.7 48.8,715.7 47.4,713.7 46.2,710.4 234.4,710.4 233.2,713.7 231.8,715.7 220.0,728.7 212.7,737.7 207.1,745.7 201.1,755.2 192.0,771.2 178.2,797.7 172.5,809.7 168.3,820.7 165.2,830.2 162.1,840.7 155.8,865.2 151.1,887.2 146.7,912.2 144.9,924.7 143.9,936.2 143.2,954.2 143.1,974.2Z" fill="#6ec2a2"/>
<path d="M137.9,974.2 137.7,953.7 137.2,936.2 136.3,925.2 134.7,913.7 130.0,887.2 124.7,863.2 118.6,838.7 115.4,827.7 112.5,818.7 108.6,808.7 103.2,797.2 88.4,769.2 79.5,753.7 72.7,743.2 66.4,734.7 60.4,727.7 50.8,717.7 48.7,715.2 47.5,713.2 46.5,710.4 234.1,710.4 233.1,713.2 231.9,715.2 229.8,717.7 220.2,727.7 214.2,734.7 207.9,743.2 201.1,753.7 192.2,769.2 177.4,797.2 172.0,808.7 168.1,818.7 165.2,827.7 162.0,838.7 155.9,863.2 150.6,887.2 145.9,913.7 144.3,925.2 143.4,936.2 142.9,953.7 142.7,974.2Z" fill="#6abc6a"/>
<path d="M138.4,974.2 138.2,953.7 137.7,936.7 136.8,925.7 135.3,914.7 130.4,886.7 124.5,859.7 118.7,836.2 115.8,825.7 113.2,817.7 109.5,808.2 104.4,797.7 88.4,767.7 79.7,752.7 73.2,742.7 67.1,734.7 61.0,727.7 49.4,715.7 48.0,713.7 46.7,710.4 233.9,710.4 232.6,713.7 231.2,715.7 219.6,727.7 213.5,734.7 207.4,742.7 200.9,752.7 192.2,767.7 176.2,797.7 171.1,808.2 167.4,817.7 164.8,825.7 161.9,836.2 156.1,859.7 150.2,886.7 145.3,914.7 143.8,925.7 142.9,936.7 142.4,953.7 142.2,974.2Z" fill="#5cb844"/>
<path d="M138.9,974.2 138.7,954.2 138.2,936.7 137.3,926.2 135.9,915.7 130.9,886.2 125.5,860.7 119.7,836.2 116.8,825.7 114.3,817.7 110.7,808.7 105.9,798.7 88.4,766.2 79.9,751.7 73.6,742.2 67.4,734.2 61.5,727.7 49.7,715.7 48.3,713.7 47.0,710.4 233.6,710.4 232.3,713.7 230.9,715.7 219.1,727.7 213.2,734.2 207.0,742.2 200.7,751.7 192.2,766.2 174.7,798.7 169.9,808.7 166.3,817.7 163.8,825.7 160.9,836.2 155.1,860.7 149.7,886.2 144.7,915.7 143.3,926.2 142.4,936.7 141.9,954.2 141.7,974.2Z" fill="#58b83a"/>
<path d="M139.7,974.2 139.4,957.2 138.6,936.7 137.8,926.2 136.5,916.2 131.4,885.2 126.6,861.2 120.7,835.7 117.9,825.7 115.4,817.7 111.8,808.7 107.2,799.2 88.8,765.2 80.5,751.2 74.4,742.2 68.0,734.2 62.1,727.7 52.3,718.2 50.0,715.7 48.6,713.7 47.3,710.4 233.3,710.4 232.0,713.7 230.6,715.7 228.3,718.2 218.5,727.7 212.6,734.2 206.2,742.2 200.1,751.2 191.8,765.2 173.4,799.2 168.8,808.7 165.2,817.7 162.7,825.7 159.9,835.7 154.0,861.2 149.2,885.2 144.1,916.2 142.8,926.2 142.0,936.7 141.2,957.2 140.9,974.2Z" fill="#5cba3a"/>
<path d="M140.3,950.0 139.9,946.7 138.6,929.2 137.6,920.2 132.9,890.2 130.6,876.7 126.9,857.7 122.5,838.2 118.9,824.7 115.6,814.7 112.1,806.7 107.5,797.7 88.9,763.7 80.8,750.2 74.9,741.7 68.8,734.2 62.7,727.7 53.1,718.7 50.3,715.7 48.9,713.7 47.6,710.4 233.0,710.4 231.7,713.7 230.3,715.7 227.5,718.7 217.9,727.7 211.8,734.2 205.7,741.7 199.8,750.2 191.7,763.7 173.1,797.7 168.5,806.7 165.0,814.7 161.7,824.7 158.1,838.2 153.7,857.7 150.0,876.7 147.7,890.2 143.0,920.2 142.0,929.2 140.7,946.7 140.3,950.0Z" fill="#6cbb32"/>
<path d="M140.3,934.0 139.8,932.7 139.3,930.2 137.4,915.7 132.7,883.7 128.4,859.7 124.9,843.2 121.9,830.7 118.8,820.2 115.9,812.2 112.5,804.7 108.0,796.2 89.5,762.7 81.3,749.2 75.2,740.7 69.2,733.7 63.4,727.7 53.5,718.7 50.6,715.7 49.2,713.7 47.9,710.4 232.7,710.4 231.4,713.7 230.0,715.7 227.1,718.7 217.2,727.7 211.4,733.7 205.4,740.7 199.3,749.2 191.1,762.7 172.6,796.2 168.1,804.7 164.7,812.2 161.8,820.2 158.7,830.7 155.7,843.2 152.2,859.7 147.9,883.7 143.2,915.7 141.3,930.2 140.8,932.7 140.3,934.0Z" fill="#9fd040"/>
<path d="M140.3,921.0 139.2,918.2 136.8,905.2 131.2,869.2 126.2,843.2 123.8,832.7 121.4,823.7 119.1,816.7 116.5,810.2 111.1,799.2 93.5,767.2 87.7,757.2 82.3,748.7 76.4,740.7 69.8,733.2 63.7,727.2 54.0,718.7 50.9,715.7 49.5,713.7 48.2,710.4 232.4,710.4 231.1,713.7 229.7,715.7 226.6,718.7 216.9,727.2 210.8,733.2 204.2,740.7 198.3,748.7 192.9,757.2 187.1,767.2 169.5,799.2 164.1,810.2 161.5,816.7 159.2,823.7 156.8,832.7 154.4,843.2 149.4,869.2 143.8,905.2 141.4,918.2 140.3,921.0Z" fill="#c8e040"/>
<path d="M140.3,909.1 140.3,908.7 139.7,908.2 138.8,906.2 137.2,899.7 131.5,863.2 128.2,845.7 125.5,833.2 123.5,825.2 121.4,818.2 119.3,812.2 116.5,805.7 111.2,795.2 95.8,767.2 89.6,756.7 83.9,748.2 77.7,740.2 70.8,732.7 64.4,726.7 51.5,715.7 49.9,713.7 48.5,710.4 232.1,710.4 230.7,713.7 229.1,715.7 216.2,726.7 209.8,732.7 202.9,740.2 196.7,748.2 191.0,756.7 184.8,767.2 169.4,795.2 164.1,805.7 161.3,812.2 159.2,818.2 157.1,825.2 155.1,833.2 152.4,845.7 149.1,863.2 143.4,899.7 141.8,906.2 140.9,908.2 140.3,908.7 140.3,909.1Z" fill="#f0e236"/>
<path d="M140.3,896.4 139.4,893.7 136.8,878.7 128.8,838.2 126.6,828.2 124.8,821.2 122.8,815.2 120.2,808.7 117.2,802.2 112.3,792.7 96.6,764.2 90.8,754.7 85.3,746.7 79.2,739.2 72.4,732.2 65.1,725.7 51.8,715.2 50.2,713.2 49.0,710.4 231.6,710.4 230.4,713.2 228.8,715.2 215.5,725.7 208.2,732.2 201.4,739.2 195.3,746.7 189.8,754.7 184.0,764.2 168.3,792.7 163.4,802.2 160.4,808.7 157.8,815.2 155.8,821.2 154.0,828.2 151.8,838.2 143.8,878.7 141.2,893.7 140.3,896.4Z" fill="#f3a826"/>
<path d="M140.3,883.6 140.3,883.2 139.8,882.7 139.1,880.7 134.7,862.7 129.3,833.2 126.5,821.2 124.7,815.2 122.2,808.7 119.1,801.7 115.3,794.2 97.7,761.7 92.1,752.7 86.3,744.7 80.3,737.7 73.1,730.7 65.9,724.7 52.6,714.7 51.2,713.2 49.9,710.4 230.7,710.4 229.4,713.2 228.0,714.7 214.7,724.7 207.5,730.7 200.3,737.7 194.3,744.7 188.5,752.7 182.9,761.7 165.3,794.2 161.5,801.7 158.4,808.7 155.9,815.2 154.1,821.2 151.3,833.2 145.9,862.7 141.5,880.7 140.8,882.7 140.3,883.2 140.3,883.6Z" fill="#ec7a2b"/>
<path d="M140.3,869.9 139.6,869.2 138.9,867.7 136.5,859.7 131.1,827.7 129.3,820.2 127.3,813.7 124.5,806.7 120.7,798.7 103.5,766.7 98.6,758.2 94.1,751.2 89.3,744.7 84.6,739.2 79.2,733.7 72.9,728.2 66.5,723.2 54.7,714.7 52.9,712.7 51.8,710.4 228.8,710.4 227.7,712.7 225.9,714.7 214.1,723.2 207.7,728.2 201.4,733.7 196.0,739.2 191.3,744.7 186.5,751.2 182.0,758.2 177.1,766.7 159.9,798.7 156.1,806.7 153.3,813.7 151.3,820.2 149.5,827.7 144.1,859.7 141.7,867.7 141.0,869.2 140.3,869.9Z" fill="#e2412d"/>
<path d="M140.3,844.0 139.2,841.7 136.8,832.2 133.7,822.2 130.2,812.7 126.3,803.2 120.8,791.2 112.7,775.2 106.5,763.2 101.5,754.7 97.9,749.2 94.2,744.2 90.5,739.7 86.8,735.7 82.0,731.2 76.1,726.2 60.5,714.7 58.7,712.7 57.7,710.4 222.9,710.4 221.9,712.7 220.1,714.7 204.5,726.2 198.6,731.2 193.8,735.7 190.1,739.7 186.4,744.2 182.7,749.2 179.1,754.7 174.1,763.2 167.9,775.2 159.8,791.2 154.3,803.2 150.4,812.7 146.9,822.2 143.8,832.2 141.4,841.7 140.3,844.0Z" fill="#d9232b"/>
<rect x="43" y="707.60" width="200" height="4" fill="#fff"/>
<path d="M135.4,974.2 135.1,957.4 133.9,940.0 132.1,922.6 129.5,905.8 126.1,888.4 122.1,871.6 117.4,854.7 111.8,837.9 105.7,821.6 98.9,805.3 91.3,789.0 83.1,773.2 74.2,757.4 64.7,742.1 54.5,726.9 43.5,711.6" fill="none" stroke="#161628" stroke-width="0.9" stroke-linejoin="round"/>
<path d="M237.1,711.6 226.1,726.9 215.9,742.1 206.4,757.4 197.5,773.2 189.3,789.0 181.7,805.3 174.9,821.6 168.8,837.9 163.2,854.7 158.5,871.6 154.5,888.4 151.1,905.8 148.5,922.6 146.7,940.0 145.5,957.4 145.2,974.2" fill="none" stroke="#161628" stroke-width="0.9" stroke-linejoin="round"/>
<path d="M43.5,711.60 H237.1" stroke="#161628" stroke-width="0.9"/>
<path d="M43.5,711.6 V974.2 H316.5" fill="none" stroke="#4a4a4a" stroke-width="0.9"/>
<text transform="translate(40.80,979.60) scale(0.860,1)" text-anchor="end" class="n">0</text>
<path d="M43.5,932.2 h5.5" stroke="#4a4a4a" stroke-width="0.9"/>
<text transform="translate(40.80,937.60) scale(0.860,1)" text-anchor="end" class="n">0.05</text>
<path d="M43.5,888.2 h5.5" stroke="#4a4a4a" stroke-width="0.9"/>
<text transform="translate(40.80,893.60) scale(0.860,1)" text-anchor="end" class="n">0.10</text>
<path d="M43.5,844.0 h5.5" stroke="#4a4a4a" stroke-width="0.9"/>
<text transform="translate(40.80,849.40) scale(0.860,1)" text-anchor="end" class="n">0.15</text>
<path d="M43.5,800.0 h5.5" stroke="#4a4a4a" stroke-width="0.9"/>
<text transform="translate(40.80,805.40) scale(0.860,1)" text-anchor="end" class="n">0.20</text>
<path d="M43.5,756.0 h5.5" stroke="#4a4a4a" stroke-width="0.9"/>
<text transform="translate(40.80,761.40) scale(0.860,1)" text-anchor="end" class="n">0.25</text>
<text transform="translate(40.80,717.20) scale(0.860,1)" text-anchor="end" class="n">0.30</text>
<path d="M51.4,974.2 v-5.5" stroke="#4a4a4a" stroke-width="0.9"/>
<text transform="translate(49.80,986.60) scale(0.860,1)" text-anchor="middle" class="n">−0.10</text>
<path d="M95.6,974.2 v-5.5" stroke="#4a4a4a" stroke-width="0.9"/>
<text transform="translate(94.00,986.60) scale(0.860,1)" text-anchor="middle" class="n">−0.05</text>
<path d="M139.9,974.2 v-5.5" stroke="#4a4a4a" stroke-width="0.9"/>
<text transform="translate(139.90,986.60) scale(0.860,1)" text-anchor="middle" class="n">0</text>
<path d="M184.2,974.2 v-5.5" stroke="#4a4a4a" stroke-width="0.9"/>
<text transform="translate(184.20,986.60) scale(0.860,1)" text-anchor="middle" class="n">0.05</text>
<path d="M228.3,974.2 v-5.5" stroke="#4a4a4a" stroke-width="0.9"/>
<text transform="translate(228.30,986.60) scale(0.860,1)" text-anchor="middle" class="n">0.10</text>
<path d="M272.3,974.2 v-5.5" stroke="#4a4a4a" stroke-width="0.9"/>
<text transform="translate(272.30,986.60) scale(0.860,1)" text-anchor="middle" class="n">0.15</text>
<path d="M316.2,974.2 v-5.5" stroke="#4a4a4a" stroke-width="0.9"/>
<text transform="translate(316.20,986.60) scale(0.860,1)" text-anchor="middle" class="n">0.20</text>
<text transform="translate(184.30,1003.10) scale(0.950,1)" text-anchor="middle" class="t"><tspan font-style="italic">X</tspan>/m</text>
<text transform="translate(10.4,845.9) rotate(-90) scale(0.95,1)" text-anchor="middle" class="t"><tspan font-style="italic">Y</tspan>/m</text>
<text x="285" y="722.7" text-anchor="middle" class="t" textLength="62.4" lengthAdjust="spacingAndGlyphs">Temperature</text>
<rect x="263.0" y="732.00" width="15.0" height="5.90" fill="#d9232b"/>
<rect x="263.0" y="737.90" width="15.0" height="12.39" fill="#e2412d"/>
<rect x="263.0" y="750.29" width="15.0" height="12.39" fill="#ec7a2b"/>
<rect x="263.0" y="762.68" width="15.0" height="12.39" fill="#f3a826"/>
<rect x="263.0" y="775.07" width="15.0" height="12.39" fill="#f0e236"/>
<rect x="263.0" y="787.46" width="15.0" height="12.39" fill="#c8e040"/>
<rect x="263.0" y="799.85" width="15.0" height="12.39" fill="#9fd040"/>
<rect x="263.0" y="812.24" width="15.0" height="12.39" fill="#6cbb32"/>
<rect x="263.0" y="824.63" width="15.0" height="12.39" fill="#5cba3a"/>
<rect x="263.0" y="837.02" width="15.0" height="12.39" fill="#58b83a"/>
<rect x="263.0" y="849.41" width="15.0" height="12.39" fill="#5cb844"/>
<rect x="263.0" y="861.80" width="15.0" height="12.39" fill="#6abc6a"/>
<rect x="263.0" y="874.19" width="15.0" height="12.39" fill="#6ec2a2"/>
<rect x="263.0" y="886.58" width="15.0" height="12.39" fill="#7acdd0"/>
<rect x="263.0" y="898.97" width="15.0" height="12.39" fill="#60c0e2"/>
<rect x="263.0" y="911.36" width="15.0" height="12.39" fill="#5898d6"/>
<rect x="263.0" y="923.75" width="15.0" height="12.39" fill="#4a66bc"/>
<rect x="263.0" y="936.14" width="15.0" height="12.39" fill="#4a4cae"/>
<rect x="263.0" y="948.53" width="15.0" height="5.27" fill="#3c3d9a"/>
<path d="M263.0,737.90 h15.0" stroke="#222" stroke-width="0.8"/>
<text transform="translate(283.80,742.20) scale(0.860,1)" text-anchor="start" class="n">660</text>
<path d="M263.0,750.29 h15.0" stroke="#222" stroke-width="0.8"/>
<text transform="translate(283.80,754.59) scale(0.860,1)" text-anchor="start" class="n">640</text>
<path d="M263.0,762.68 h15.0" stroke="#222" stroke-width="0.8"/>
<text transform="translate(283.80,766.98) scale(0.860,1)" text-anchor="start" class="n">620</text>
<path d="M263.0,775.07 h15.0" stroke="#222" stroke-width="0.8"/>
<text transform="translate(283.80,779.37) scale(0.860,1)" text-anchor="start" class="n">600</text>
<path d="M263.0,787.46 h15.0" stroke="#222" stroke-width="0.8"/>
<text transform="translate(283.80,791.76) scale(0.860,1)" text-anchor="start" class="n">580</text>
<path d="M263.0,799.85 h15.0" stroke="#222" stroke-width="0.8"/>
<text transform="translate(283.80,804.15) scale(0.860,1)" text-anchor="start" class="n">560</text>
<path d="M263.0,812.24 h15.0" stroke="#222" stroke-width="0.8"/>
<text transform="translate(283.80,816.54) scale(0.860,1)" text-anchor="start" class="n">540</text>
<path d="M263.0,824.63 h15.0" stroke="#222" stroke-width="0.8"/>
<text transform="translate(283.80,828.93) scale(0.860,1)" text-anchor="start" class="n">520</text>
<path d="M263.0,837.02 h15.0" stroke="#222" stroke-width="0.8"/>
<text transform="translate(283.80,841.32) scale(0.860,1)" text-anchor="start" class="n">500</text>
<path d="M263.0,849.41 h15.0" stroke="#222" stroke-width="0.8"/>
<text transform="translate(283.80,853.71) scale(0.860,1)" text-anchor="start" class="n">480</text>
<path d="M263.0,861.80 h15.0" stroke="#222" stroke-width="0.8"/>
<text transform="translate(283.80,866.10) scale(0.860,1)" text-anchor="start" class="n">460</text>
<path d="M263.0,874.19 h15.0" stroke="#222" stroke-width="0.8"/>
<text transform="translate(283.80,878.49) scale(0.860,1)" text-anchor="start" class="n">440</text>
<path d="M263.0,886.58 h15.0" stroke="#222" stroke-width="0.8"/>
<text transform="translate(283.80,890.88) scale(0.860,1)" text-anchor="start" class="n">420</text>
<path d="M263.0,898.97 h15.0" stroke="#222" stroke-width="0.8"/>
<text transform="translate(283.80,903.27) scale(0.860,1)" text-anchor="start" class="n">400</text>
<path d="M263.0,911.36 h15.0" stroke="#222" stroke-width="0.8"/>
<text transform="translate(283.80,915.66) scale(0.860,1)" text-anchor="start" class="n">380</text>
<path d="M263.0,923.75 h15.0" stroke="#222" stroke-width="0.8"/>
<text transform="translate(283.80,928.05) scale(0.860,1)" text-anchor="start" class="n">360</text>
<path d="M263.0,936.14 h15.0" stroke="#222" stroke-width="0.8"/>
<text transform="translate(283.80,940.44) scale(0.860,1)" text-anchor="start" class="n">340</text>
<path d="M263.0,948.53 h15.0" stroke="#222" stroke-width="0.8"/>
<text transform="translate(283.80,952.83) scale(0.860,1)" text-anchor="start" class="n">320</text>
<rect x="263.0" y="732.00" width="15.0" height="221.80" fill="none" stroke="#222" stroke-width="0.8"/>
<text x="214.7" y="1019.5" text-anchor="end" class="t"><tspan class="bd">(c)</tspan><tspan dx="2">3.5 m/min</tspan></text>
</svg></body></html>
